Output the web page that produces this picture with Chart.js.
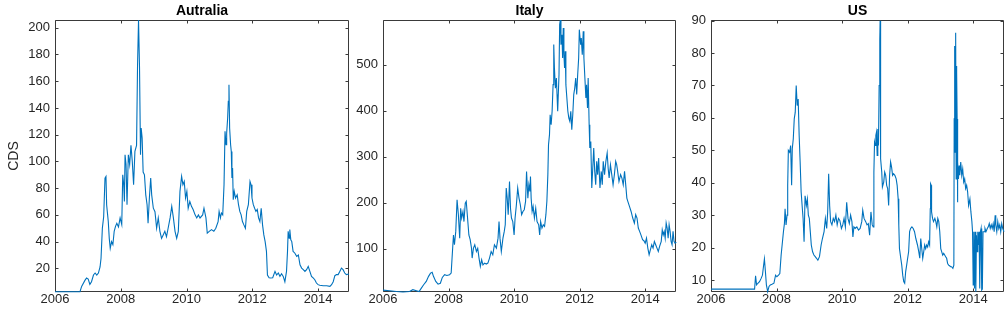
<!DOCTYPE html>
<html>
<head>
<meta charset="utf-8">
<script src="https://cdn.jsdelivr.net/npm/chart.js@4/dist/chart.umd.min.js"></script>
<style>
html,body{margin:0;padding:0;background:#fff;width:1007px;height:316px;overflow:hidden;}
canvas{position:absolute;top:0;}
</style>
</head>
<body>
<canvas id="c1" width="351" height="316" style="left:0px"></canvas>
<canvas id="c2" width="327" height="316" style="left:351px"></canvas>
<canvas id="c3" width="329" height="316" style="left:678px"></canvas>
<script>
// ---- data ----
const titles = ["Autralia", "Italy", "US"];
const yAxisLabel = "CDS";
const xTicks = [2006, 2008, 2010, 2012, 2014];
const auTicks = [20, 40, 60, 80, 100, 120, 140, 160, 180, 200];
const itTicks = [100, 200, 300, 400, 500];
const usTicks = [10, 20, 30, 40, 50, 60, 70, 80, 90];

const auDates = [2006.00,2006.76,2006.81,2006.91,2006.96,2007.01,2007.06,2007.11,2007.17,2007.22,2007.27,2007.32,2007.37,2007.40,2007.44,2007.48,2007.52,2007.55,2007.57,2007.60,2007.62,2007.65,2007.68,2007.72,2007.76,2007.80,2007.84,2007.88,2007.93,2007.98,2008.03,2008.06,2008.09,2008.11,2008.13,2008.16,2008.19,2008.23,2008.27,2008.31,2008.35,2008.39,2008.43,2008.48,2008.51,2008.54,2008.57,2008.60,2008.62,2008.65,2008.68,2008.72,2008.76,2008.80,2008.83,2008.87,2008.91,2008.94,2008.99,2009.04,2009.09,2009.14,2009.19,2009.24,2009.29,2009.34,2009.39,2009.44,2009.50,2009.55,2009.60,2009.65,2009.70,2009.75,2009.80,2009.85,2009.89,2009.93,2009.97,2010.01,2010.05,2010.10,2010.15,2010.20,2010.26,2010.31,2010.36,2010.41,2010.49,2010.53,2010.59,2010.63,2010.69,2010.76,2010.83,2010.89,2010.96,2010.99,2011.03,2011.06,2011.10,2011.14,2011.17,2011.20,2011.22,2011.25,2011.27,2011.29,2011.31,2011.34,2011.36,2011.38,2011.40,2011.42,2011.45,2011.49,2011.54,2011.58,2011.62,2011.66,2011.70,2011.74,2011.79,2011.83,2011.88,2011.93,2011.96,2011.99,2012.03,2012.07,2012.11,2012.15,2012.19,2012.23,2012.27,2012.31,2012.35,2012.39,2012.43,2012.46,2012.51,2012.56,2012.62,2012.69,2012.74,2012.79,2012.84,2012.89,2012.94,2012.99,2013.04,2013.07,2013.09,2013.12,2013.14,2013.17,2013.20,2013.24,2013.29,2013.35,2013.40,2013.45,2013.50,2013.55,2013.60,2013.65,2013.70,2013.75,2013.80,2013.85,2013.90,2013.95,2014.00,2014.05,2014.16,2014.26,2014.36,2014.41,2014.46,2014.51,2014.56,2014.61,2014.66,2014.71,2014.76,2014.81,2014.86,2014.94];
const auValues = [2.5,2.5,6.5,11,12.8,12,8,10,15,16.5,15,16.5,21,27.5,50,58.6,87.5,88.8,67.6,60,55,42.4,35,40,37.7,47.7,51.4,53.7,51,57.7,52.7,90,82.6,70,105,97.6,67.6,105,97.6,112,100,82.6,107.5,112,172,205.8,170,105,125,117.5,92,90,75,67.6,53.7,72.6,87.5,75,65,62.4,50,57.7,47.7,42.4,45,47.7,43.7,50,57.7,66.4,57.7,47.7,42.4,47.7,77.6,88.8,82.6,85,72.6,77.6,65,70,66.4,64,60,57.7,60,57.7,60,65,57.7,46.4,47.7,49,47.7,50,55,62.6,57.7,61.4,60,82.6,122.5,112.5,121,132.5,145,157.4,125,112.5,107.5,87.6,95,71.4,77.6,72.6,75,67.6,62.6,60,55,52.7,50,62.6,67.6,85,82.6,72.6,67.6,65,62.6,64,57.7,55,65,52.7,45,40,32.7,15,13,12.8,13,17.7,15,16.5,14,16,14,10,17.7,32.7,47.7,42.6,49,41.4,40,32.7,31.5,29,30,22.7,20.2,19,17.7,19,21.5,17.7,14,12.8,11.5,9,7.8,7.3,7,7,6.5,7.8,10,14.5,15.3,15.3,17.7,20.2,19,16.5,15.3,15.8];

const itDates = [2006.00,2006.20,2006.41,2006.61,2006.81,2006.91,2007.02,2007.10,2007.17,2007.24,2007.32,2007.39,2007.45,2007.50,2007.54,2007.61,2007.68,2007.75,2007.81,2007.88,2007.95,2008.03,2008.08,2008.11,2008.15,2008.18,2008.22,2008.26,2008.30,2008.34,2008.37,2008.40,2008.44,2008.47,2008.51,2008.54,2008.58,2008.62,2008.66,2008.70,2008.72,2008.76,2008.80,2008.85,2008.89,2008.93,2008.97,2009.01,2009.05,2009.10,2009.15,2009.20,2009.25,2009.30,2009.35,2009.40,2009.46,2009.51,2009.54,2009.57,2009.61,2009.66,2009.70,2009.73,2009.76,2009.79,2009.82,2009.86,2009.89,2009.92,2009.96,2010.00,2010.03,2010.07,2010.11,2010.15,2010.19,2010.23,2010.27,2010.31,2010.35,2010.38,2010.42,2010.45,2010.48,2010.50,2010.52,2010.55,2010.58,2010.62,2010.66,2010.70,2010.75,2010.78,2010.81,2010.85,2010.89,2010.93,2010.97,2011.00,2011.03,2011.05,2011.08,2011.10,2011.13,2011.16,2011.19,2011.21,2011.23,2011.26,2011.29,2011.31,2011.33,2011.37,2011.39,2011.41,2011.43,2011.46,2011.48,2011.50,2011.52,2011.54,2011.56,2011.58,2011.61,2011.64,2011.67,2011.70,2011.73,2011.76,2011.79,2011.82,2011.85,2011.88,2011.91,2011.94,2011.97,2011.99,2012.03,2012.05,2012.08,2012.11,2012.13,2012.16,2012.19,2012.21,2012.24,2012.26,2012.29,2012.31,2012.34,2012.37,2012.40,2012.43,2012.46,2012.49,2012.52,2012.55,2012.58,2012.62,2012.66,2012.69,2012.72,2012.76,2012.80,2012.84,2012.87,2012.90,2012.94,2012.98,2013.02,2013.06,2013.10,2013.13,2013.16,2013.20,2013.25,2013.29,2013.33,2013.37,2013.41,2013.44,2013.47,2013.52,2013.57,2013.62,2013.67,2013.71,2013.75,2013.79,2013.83,2013.87,2013.92,2013.96,2014.00,2014.04,2014.08,2014.12,2014.16,2014.20,2014.24,2014.28,2014.32,2014.36,2014.40,2014.44,2014.49,2014.52,2014.55,2014.58,2014.61,2014.64,2014.67,2014.70,2014.73,2014.76,2014.79,2014.82,2014.85,2014.88,2014.91,2014.95];
const itValues = [10,8.7,7,6,7,11,8.7,7,14.5,21.7,29,40,47,49,40,29,23,25,37.7,43.5,42,43.5,47,83,130,108.7,137.7,206.5,174,123,188,166.7,181,159,199,203,166.7,130,119.6,101.4,79.7,101.4,108.7,94,101,79.7,61.6,76,65,68.8,66.7,68.8,79.7,94,87,108.7,101.4,123,159,123,94,123,137.7,152,232,210,174,246,188,166.7,159,130,166.7,195.6,232,210,195.6,174,181,184.8,203,268,210,239,224.6,257,210,181,192,166.7,188,159,152,130,159,145,152,148.6,174,203,261,326,348,391,369.6,398.6,456.5,543.5,493,449,471,435,398.6,478,587,597,543.5,565,514.5,579.7,521.7,493,529,456.5,427.5,398.6,384,377,398.6,358.7,391,435,449,471,435,478,514.5,576,543.5,558,521.7,572.5,514.5,471,427.5,456.5,405.8,471,369.6,318.8,333,232,275,318.8,268,239,290,261,297,232,268,239,290,261,290,308,275,253.6,282.6,261,239,261,290,282.6,268,246,261,253.6,239,268,235.5,210,203,192,181,166.7,155.8,174,166.7,145,137.7,130,119.6,117.4,112,123,101.4,87,98,108.7,101.4,116,108.7,101.4,94,105,116,141,130,137.7,123,155.8,145,123,152,137.7,116,108.7,137.7,116,112,114.5];

const usDates = [2006.00,2007.33,2007.36,2007.39,2007.43,2007.48,2007.53,2007.57,2007.60,2007.63,2007.66,2007.69,2007.73,2007.77,2007.81,2007.86,2007.92,2007.97,2008.01,2008.06,2008.10,2008.14,2008.18,2008.21,2008.24,2008.26,2008.29,2008.32,2008.34,2008.36,2008.40,2008.43,2008.46,2008.48,2008.51,2008.54,2008.57,2008.60,2008.63,2008.66,2008.69,2008.72,2008.75,2008.78,2008.81,2008.84,2008.87,2008.91,2008.94,2008.97,2009.00,2009.03,2009.06,2009.10,2009.14,2009.18,2009.22,2009.26,2009.31,2009.36,2009.40,2009.45,2009.49,2009.53,2009.56,2009.59,2009.62,2009.65,2009.69,2009.73,2009.77,2009.81,2009.85,2009.89,2009.93,2009.98,2010.02,2010.06,2010.10,2010.14,2010.18,2010.22,2010.26,2010.30,2010.33,2010.36,2010.40,2010.45,2010.50,2010.55,2010.60,2010.63,2010.67,2010.72,2010.76,2010.80,2010.84,2010.88,2010.92,2010.95,2010.97,2010.99,2011.01,2011.03,2011.05,2011.07,2011.09,2011.11,2011.13,2011.15,2011.16,2011.17,2011.18,2011.21,2011.23,2011.27,2011.30,2011.33,2011.36,2011.39,2011.42,2011.45,2011.48,2011.51,2011.54,2011.57,2011.61,2011.65,2011.68,2011.71,2011.73,2011.75,2011.79,2011.82,2011.85,2011.88,2011.91,2011.94,2011.97,2012.00,2012.03,2012.06,2012.09,2012.13,2012.17,2012.21,2012.25,2012.30,2012.34,2012.37,2012.40,2012.43,2012.46,2012.49,2012.52,2012.55,2012.58,2012.61,2012.64,2012.67,2012.69,2012.70,2012.72,2012.73,2012.76,2012.79,2012.83,2012.86,2012.89,2012.92,2012.95,2012.98,2013.01,2013.04,2013.07,2013.10,2013.13,2013.16,2013.19,2013.22,2013.25,2013.28,2013.31,2013.34,2013.38,2013.41,2013.42,2013.43,2013.44,2013.45,2013.46,2013.47,2013.48,2013.49,2013.50,2013.51,2013.52,2013.53,2013.55,2013.57,2013.59,2013.62,2013.65,2013.68,2013.71,2013.74,2013.77,2013.80,2013.83,2013.86,2013.90,2013.93,2013.96,2013.98,2014.00,2014.02,2014.04,2014.06,2014.08,2014.10,2014.12,2014.14,2014.16,2014.18,2014.20,2014.22,2014.24,2014.26,2014.28,2014.30,2014.33,2014.36,2014.39,2014.43,2014.46,2014.49,2014.52,2014.55,2014.58,2014.61,2014.64,2014.67,2014.69,2014.72,2014.75,2014.78,2014.81,2014.84,2014.87,2014.90,2014.94];
const usValues = [7.2,7.2,11.3,8.5,9,9.5,10.5,11.5,14.1,16.5,12.6,8.5,6.4,8,8.5,8.7,9,11.5,11,11.5,12,17.7,21.8,24.9,27.4,32,27,30,39.2,50,49.4,51.5,39.2,50.5,53.5,59.7,61.7,70,63.8,65.8,54.6,46.4,37.2,33,29,21.8,36,33,35,30,29,24.9,20.8,18.7,17.7,17.2,16.7,16.1,17.2,20.8,22.8,24.9,29,25.9,31,42.8,33,28,27,29,28,30,27,29,28.4,25.9,27,29,26.4,34,29,27.4,30,28,23.3,26.4,25.9,26.4,25.4,25.9,28,31.5,29,28,27,27.4,23.8,31,27,26.4,43.3,52.5,51.5,54.6,55.6,48.4,56.6,51.5,70,84.3,90,64.8,47.4,43.3,38.7,40.2,43.3,42.3,39.2,38.2,33,42.3,46.4,44.8,42.3,42.8,42.3,41.2,39.2,35.1,27,19.7,16.7,14.6,11.5,9.5,9,12.6,14.6,16.7,18.7,24.9,25.9,26.4,25.9,24.9,22.8,20.8,18.7,16.7,22.8,19.7,16.7,18.7,20.8,19.7,20.8,20.2,21.8,20.8,32,39.7,39.2,31,29,28,29,28,26.4,29,28,24.9,19.7,18.7,17.7,18.2,17.7,17.2,16.7,15.1,14.6,14.4,14.1,14.1,13.6,14.6,59.7,82.2,78.1,49.4,81.2,86.3,41.2,76,74,59.7,34,46.4,41.2,45.3,42.3,46.4,42.3,44.3,40.2,41.2,38.2,39.2,37.2,33,35,31,28,24.9,8.5,24.9,7.4,24.9,6.4,23.8,18.7,24.9,20.8,24.9,7.4,24.9,25.9,6.9,7.2,24.9,24.9,25.9,24.9,25.9,26.4,27.4,25.9,27,25.9,27.4,24.9,30,27,24.9,28,25.9,27,24.9,27.4,25.9,24.9];

// ---- rendering ----
const AXIS = '#262626';
const FONT = 'Liberation Sans, Arial, Helvetica, sans-serif';

const framePlugin = {
  id: 'frame',
  beforeDatasetsDraw(chart) {
    const ctx = chart.ctx, a = chart.chartArea;
    const xs = chart.scales.x, ys = chart.scales.y;
    const L = Math.round(a.left) + 0.5, R = Math.round(a.right) - 0.5;
    const T = Math.round(a.top) + 0.5, B = Math.round(a.bottom) - 0.5;
    ctx.save();
    ctx.strokeStyle = '#3a3a3a';
    ctx.lineWidth = 1;
    ctx.beginPath();
    ctx.rect(L, T, R - L, B - T);
    const tl = 3;
    xs.ticks.forEach(t => {
      const p = Math.round(xs.getPixelForValue(t.value)) + 0.5;
      ctx.moveTo(p, B); ctx.lineTo(p, B - tl);
      ctx.moveTo(p, T); ctx.lineTo(p, T + tl);
    });
    ys.ticks.forEach(t => {
      const p = Math.round(ys.getPixelForValue(t.value)) + 0.5;
      ctx.moveTo(L, p); ctx.lineTo(L + tl, p);
      ctx.moveTo(R, p); ctx.lineTo(R - tl, p);
    });
    ctx.stroke();
    ctx.restore();
  },
  afterDraw(chart) {
    const ctx = chart.ctx, a = chart.chartArea;
    ctx.save();
    ctx.fillStyle = '#000';
    ctx.font = 'bold 14px ' + FONT;
    ctx.textAlign = 'center';
    ctx.textBaseline = 'middle';
    ctx.fillText(chart.options.plugins.frame.title, (a.left + a.right) / 2, 11.5);
    ctx.restore();
  }
};

function makeChart(id, title, dates, values, yTicks, ymin, ymax, yWidth, padRight, showYTitle) {
  const pts = dates.map((d, i) => ({ x: d, y: values[i] }));
  return new Chart(document.getElementById(id), {
    type: 'line',
    data: { datasets: [{ data: pts, borderColor: '#0072BD', borderWidth: 1.1, pointRadius: 0, tension: 0, fill: false, clip: 2 }] },
    options: {
      responsive: false, animation: false, parsing: true,
      layout: { padding: { top: 20, right: padRight, bottom: 0, left: 0 } },
      plugins: { legend: { display: false }, tooltip: { enabled: false }, frame: { title: title } },
      scales: {
        x: {
          type: 'linear', min: 2006, max: 2014.94,
          grid: { display: false, drawTicks: false }, border: { display: false },
          afterBuildTicks: s => { s.ticks = xTicks.map(v => ({ value: v })); },
          afterFit: s => { s.height = 24; },
          ticks: { color: AXIS, font: { family: FONT, size: 13 }, padding: 0, maxRotation: 0, autoSkip: false, callback: v => String(v) }
        },
        y: {
          type: 'linear', min: ymin, max: ymax,
          grid: { display: false, drawTicks: false }, border: { display: false },
          afterBuildTicks: s => { s.ticks = yTicks.map(v => ({ value: v })); },
          afterFit: s => { s.width = yWidth; },
          title: { display: showYTitle, text: yAxisLabel, color: AXIS, font: { family: FONT, size: 14 }, padding: { top: 6, bottom: 0 } },
          ticks: { color: AXIS, font: { family: FONT, size: 13 }, padding: 5, autoSkip: false, callback: v => String(v) }
        }
      }
    },
    plugins: [framePlugin]
  });
}

makeChart('c1', titles[0], auDates, auValues, auTicks, 2.3, 205.8, 55, 2, true);
makeChart('c2', titles[1], itDates, itValues, itTicks, 6, 597, 32, 2, false);
makeChart('c3', titles[2], usDates, usValues, usTicks, 6.3, 90.2, 33, 3, false);
</script>
</body>
</html>
